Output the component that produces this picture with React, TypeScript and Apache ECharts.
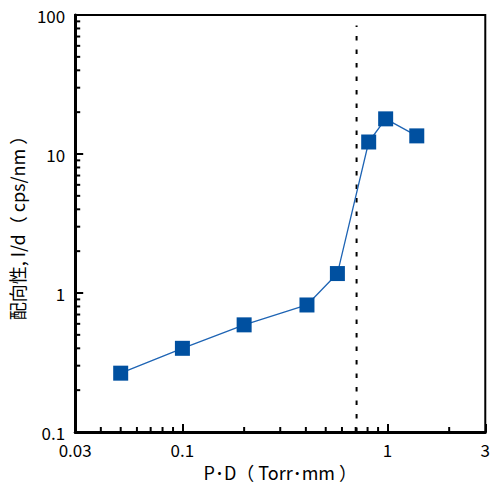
import React, { useEffect, useRef } from "react";
import * as echarts from "echarts";

const pdValues = [0.05, 0.1, 0.2, 0.405, 0.57, 0.81, 0.98, 1.39];
const orientationValues = [0.265, 0.4, 0.59, 0.82, 1.38, 12.2, 17.9, 13.5];
const thresholdX = 0.707;
const thresholdSpan = [0.1, 84];
const xMinorTicks = [0.04, 0.05, 0.06, 0.07, 0.08, 0.09, 0.2, 0.3, 0.4, 0.5, 0.6, 0.7, 0.8, 0.9, 2];
const yMinorTicks = [0.2, 0.3, 0.4, 0.5, 0.6, 0.7, 0.8, 0.9, 2, 3, 4, 5, 6, 7, 8, 9, 20, 30, 40, 50, 60, 70, 80, 90];
const xMin = 0.03;
const xMax = 3;
const yMin = 0.1;
const yMax = 100;

const FONT = "'Noto Sans CJK JP', 'Noto Sans', sans-serif";

export default function App() {
  const ref = useRef<HTMLDivElement>(null);
  useEffect(() => {
    if (!ref.current) return;
    const chart = echarts.init(ref.current, null, { renderer: "svg" });
    const option: any = {
      animation: false,
      backgroundColor: "#fff",
      grid: {
        left: 70,
        right: 5,
        top: 15,
        bottom: 55,
        show: true,
        borderColor: "#000",
        borderWidth: 2,
      },
      xAxis: {
        type: "log",
        logBase: 10,
        min: xMin,
        max: xMax,
        name: "P･D（ Torr･mm ）",
        nameLocation: "middle",
        nameGap: 30,
        nameTextStyle: { fontFamily: FONT, fontSize: 18, color: "#000" },
        axisLine: { lineStyle: { color: "#000", width: 3 } },
        axisTick: { inside: true, length: 8, lineStyle: { color: "#000", width: 2 } },
        axisLabel: {
          fontFamily: FONT,
          fontSize: 17,
          color: "#000",
          margin: 9,
          showMinLabel: true,
          showMaxLabel: true,
        },
        splitLine: { show: false },
      },
      yAxis: {
        type: "log",
        logBase: 10,
        min: yMin,
        max: yMax,
        name: "配向性, I/d（ cps/nm ）",
        nameLocation: "middle",
        nameRotate: 90,
        nameGap: 44,
        nameTextStyle: { fontFamily: FONT, fontSize: 18, color: "#000" },
        axisLine: { lineStyle: { color: "#000", width: 3 } },
        axisTick: { inside: true, length: 8, lineStyle: { color: "#000", width: 2 } },
        axisLabel: { fontFamily: FONT, fontSize: 17, color: "#000", margin: 10 },
        splitLine: { show: false },
      },
      series: [
        {
          type: "custom",
          silent: true,
          clip: false,
          data: xMinorTicks.map((v) => [v, yMin]),
          encode: { x: 0, y: 1 },
          renderItem: (params: any, api: any) => {
            const p = api.coord([api.value(0), api.value(1)]);
            return {
              type: "line",
              shape: { x1: p[0], y1: p[1], x2: p[0], y2: p[1] - 5 },
              style: { stroke: "#000", lineWidth: 2 },
            };
          },
        },
        {
          type: "custom",
          silent: true,
          clip: false,
          data: yMinorTicks.map((v) => [xMin, v]),
          encode: { x: 0, y: 1 },
          renderItem: (params: any, api: any) => {
            const p = api.coord([api.value(0), api.value(1)]);
            return {
              type: "line",
              shape: { x1: p[0], y1: p[1], x2: p[0] + 5, y2: p[1] },
              style: { stroke: "#000", lineWidth: 2 },
            };
          },
        },
        {
          type: "line",
          silent: true,
          symbol: "none",
          data: thresholdSpan.map((y) => [thresholdX, y]),
          lineStyle: { color: "#000", width: 2, type: [4.5, 9] },
          z: 1,
        },
        {
          type: "line",
          data: pdValues.map((x, i) => [x, orientationValues[i]]),
          symbol: "rect",
          symbolSize: 15,
          itemStyle: { color: "#0050A0" },
          lineStyle: { color: "#1E64B4", width: 1.3 },
          z: 3,
        },
      ],
    };
    chart.setOption(option);
    return () => chart.dispose();
  }, []);
  return <div ref={ref} style={{ width: 493, height: 487, position: "absolute", left: 0, top: 0 }} />;
}
